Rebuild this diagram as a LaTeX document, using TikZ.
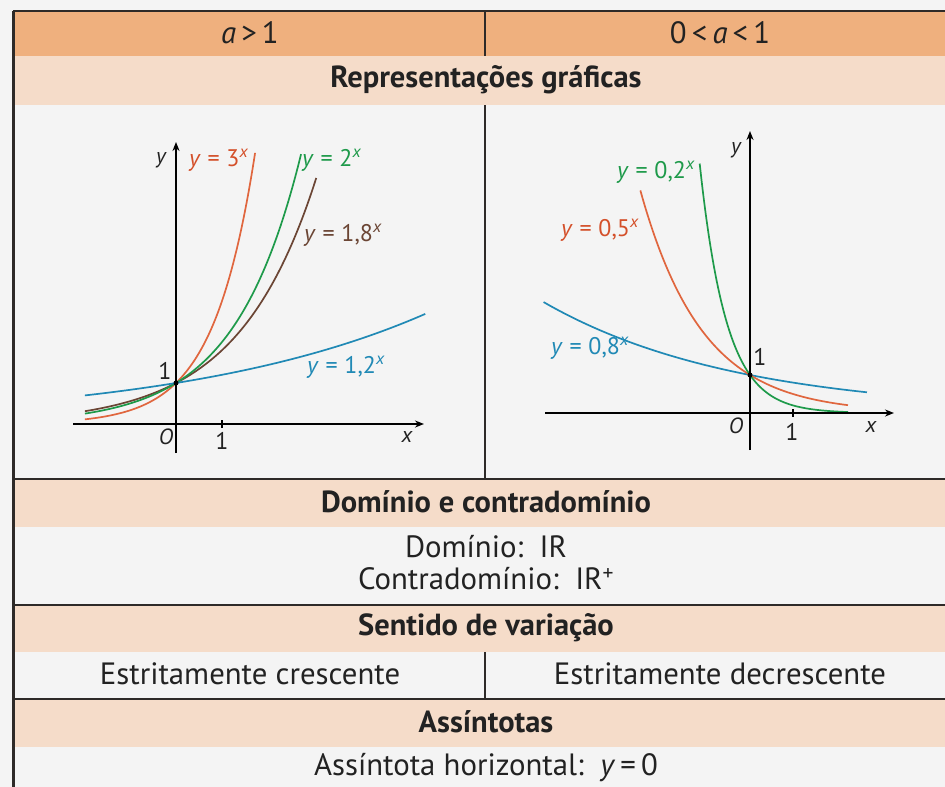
\documentclass[tikz,border=0pt]{standalone}
\usepackage{fontspec}
\setmainfont{PT Sans}
\usetikzlibrary{arrows.meta}
\definecolor{bg}{HTML}{F4F4F4}
\definecolor{hdrorange}{HTML}{EFB07E}
\definecolor{peach}{HTML}{F5DCC9}
\definecolor{rulecol}{HTML}{2E2A28}
\definecolor{txt}{HTML}{222222}
\definecolor{corange}{HTML}{E0663E}
\definecolor{lorange}{HTML}{D4502A}
\definecolor{cgreen}{HTML}{1E9A4A}
\definecolor{cbrown}{HTML}{6B4534}
\definecolor{cblue}{HTML}{2089B5}
\newcommand\eqlab[1]{\textit{y}\hspace{0.28em}=\hspace{0.28em}#1\textsuperscript{\textit{x}}}
\begin{document}
\begin{tikzpicture}[x=1pt,y=-1pt,
  hdr/.style={font=\fontsize{30.5}{34}\selectfont\bfseries, text=txt, inner sep=0pt},
  body/.style={font=\fontsize{30.8}{32}\selectfont, text=txt, inner sep=0pt},
  lbl/.style={font=\fontsize{24}{26}\selectfont, inner sep=0pt},
  axlbl/.style={font=\fontsize{22}{24}\selectfont\itshape, text=txt, inner sep=0pt},
  tablerule/.style={draw=rulecol, line width=2pt},
  thinrule/.style={draw=rulecol, line width=1.5pt},
  curve/.style={line width=1.7pt, smooth, samples=80},
  axis/.style={draw=black, line width=1.5pt, -{Stealth[length=9pt,width=7pt]}},
  tick/.style={draw=black, line width=1.2pt}]
\useasboundingbox (0,0) rectangle (945,787);
\fill[bg] (0,0) rectangle (945,787);
% bands
\fill[hdrorange] (13,11) rectangle (945,56);
\fill[peach] (13,56) rectangle (945,105);
\fill[peach] (13,479) rectangle (945,527);
\fill[peach] (13,605) rectangle (945,652);
\fill[peach] (13,699) rectangle (945,747);
% rules
\coordinate (tl) at (13,11); \coordinate (tr) at (945,11);
\coordinate (bl) at (13,787);
\draw[tablerule] (tl) -- (tr);
\draw[draw=rulecol, line width=3pt] (tl) -- (bl);
\coordinate (r1l) at (13,479); \coordinate (r1r) at (945,479);
\coordinate (r2l) at (13,605); \coordinate (r2r) at (945,605);
\coordinate (r3l) at (13,699); \coordinate (r3r) at (945,699);
\draw[tablerule] (r1l) -- (r1r);
\draw[tablerule] (r2l) -- (r2r);
\draw[tablerule] (r3l) -- (r3r);
\coordinate (d1a) at (485,11); \coordinate (d1b) at (485,56);
\coordinate (d2a) at (485,105); \coordinate (d2b) at (485,479);
\coordinate (d3a) at (485,652); \coordinate (d3b) at (485,699);
\draw[thinrule] (d1a) -- (d1b);
\draw[thinrule] (d2a) -- (d2b);
\draw[thinrule] (d3a) -- (d3b);
% texts
\node[body] (h1) at (250,33) {\textit{a}\,>\,1};
\node[body] (h2) at (720,33) {0\,<\,\textit{a}\,<\,1};
\node[hdr] (rep) at (486,80) {Representações gráficas};
\node[hdr] (dom) at (486,502) {Domínio e contradomínio};
\node[body, align=center] (domtxt) at (486,563) {Domínio:\ \ IR\\Contradomínio:\ \ IR\textsuperscript{+}};
\node[hdr] (sent) at (486,628) {Sentido de variação};
\node[body] (cres) at (250,674) {Estritamente crescente};
\node[body] (decr) at (720,674) {Estritamente decrescente};
\node[hdr] (ass) at (486,722) {Assíntotas};
\node[body] (asst) at (486,768) {Assíntota horizontal:\ \ \textit{y}\,=\,0};
% ---------- left graph
\coordinate (Lxs) at (73,424); \coordinate (Lxe) at (424,424);
\coordinate (Lys) at (176,453); \coordinate (Lye) at (176,142);
\begin{scope}[shift={(176,424)}, x=46pt, y=41pt]
  \draw[curve, corange, domain=-1.98:1.72] plot (\x,{3^\x});
  \draw[curve, cbrown, domain=-1.98:3.05] plot (\x,{1.8^\x});
  \draw[curve, cgreen, domain=-1.98:2.72] plot (\x,{2^\x});
  \draw[curve, cblue, domain=-1.98:5.42] plot (\x,{1.2^\x});
  \coordinate (Ltick) at (1,0);
\end{scope}
\draw[axis] (Lxs) -- (Lxe);
\draw[axis] (Lys) -- (Lye);
\draw[tick] (Ltick) ++(0,-4) -- ++(0,8);
\node[fill=black, circle, inner sep=0pt, minimum size=5pt] (Lpt) at (176,383) {};
\node[axlbl] (Lyl) at (161,160) {y};
\node[axlbl] (Lxl) at (407,437) {x};
\node[lbl, text=txt] (Lone) at (165,371) {1};
\node[axlbl] (LO) at (166,437) {O};
\node[lbl, text=txt] (Lonex) at (222,441) {1};
\node[lbl, text=lorange, anchor=west] (l3) at (189,160) {\eqlab{3}};
\node[lbl, text=cgreen, anchor=west] (l2) at (302,160) {\eqlab{2}};
\node[lbl, text=cbrown, anchor=west] (l18) at (304,235) {\eqlab{1,8}};
\node[lbl, text=cblue, anchor=west] (l12) at (307,367) {\eqlab{1,2}};
% ---------- right graph
\coordinate (Rxs) at (545,413); \coordinate (Rxe) at (894,413);
\coordinate (Rys) at (750,450); \coordinate (Rye) at (750,131);
\begin{scope}[shift={(750,413)}, x=43pt, y=38pt]
  \draw[curve, cblue, domain=-4.8:2.72] plot (\x,{0.8^\x});
  \draw[curve, corange, domain=-2.55:2.28] plot (\x,{0.5^\x});
  \draw[curve, cgreen, domain=-1.17:2.28] plot (\x,{0.2^\x});
  \coordinate (Rtick) at (1,0);
\end{scope}
\draw[axis] (Rxs) -- (Rxe);
\draw[axis] (Rys) -- (Rye);
\draw[tick] (Rtick) ++(0,-4) -- ++(0,8);
\node[fill=black, circle, inner sep=0pt, minimum size=5pt] (Rpt) at (750,375) {};
\node[axlbl] (Ryl) at (736,150) {y};
\node[axlbl] (Rxl) at (871,427) {x};
\node[lbl, text=txt] (Rone) at (760,357) {1};
\node[axlbl] (RO) at (736,426) {O};
\node[lbl, text=txt] (Ronex) at (792,432) {1};
\node[lbl, text=cgreen, anchor=west] (r02) at (617,172) {\eqlab{0,2}};
\node[lbl, text=lorange, anchor=west] (r05) at (561,230) {\eqlab{0,5}};
\node[lbl, text=cblue, anchor=west] (r08) at (551,348) {\eqlab{0,8}};
\end{tikzpicture}
\end{document}
